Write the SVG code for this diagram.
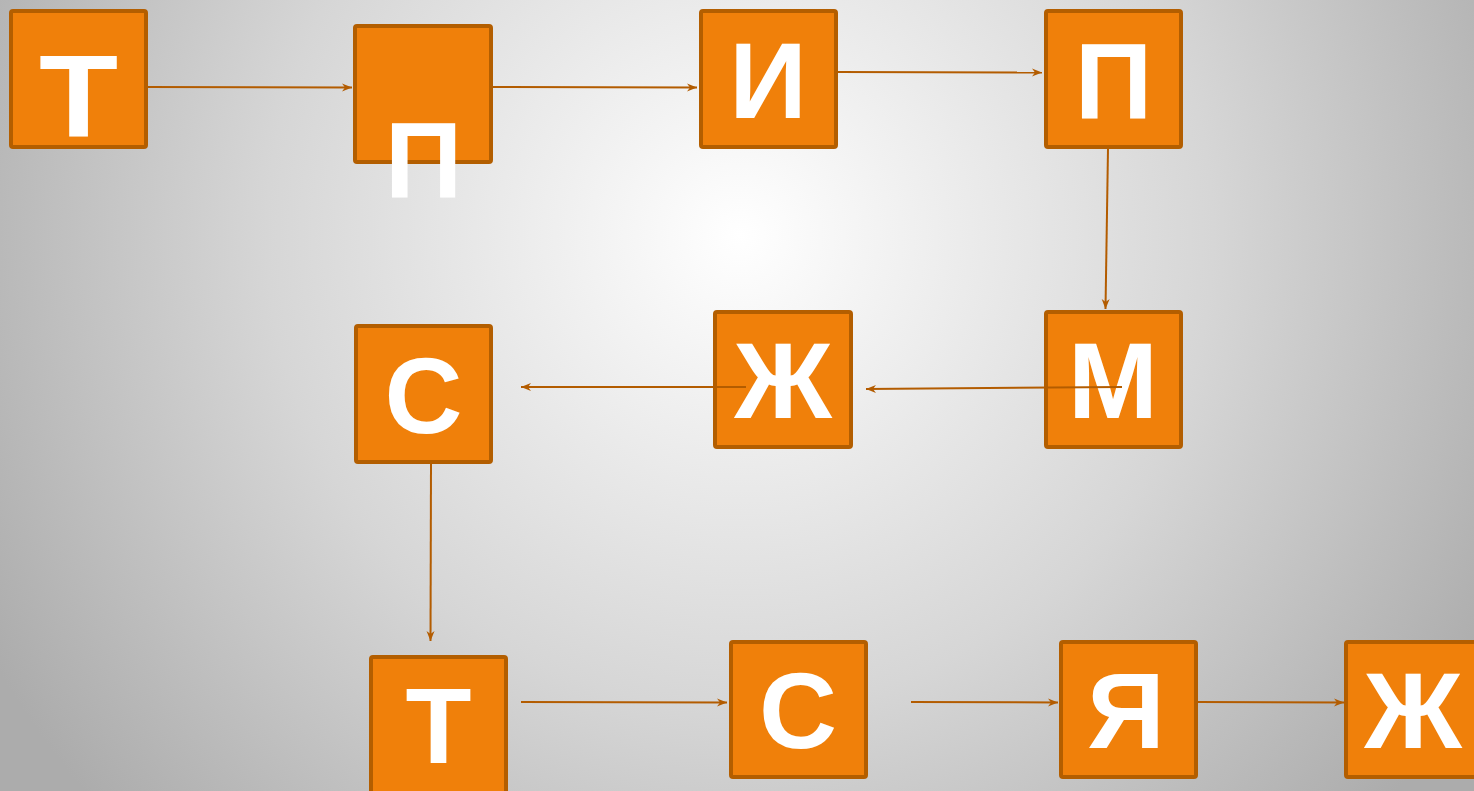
<svg xmlns="http://www.w3.org/2000/svg" width="1474" height="791" viewBox="0 0 1474 791">
<defs>
<radialGradient id="bg" gradientUnits="userSpaceOnUse" cx="740" cy="235" r="860">
<stop offset="0" stop-color="#ffffff"/>
<stop offset="0.55" stop-color="#d6d6d6"/>
<stop offset="1" stop-color="#acacac"/>
</radialGradient>
<marker id="arr" markerWidth="12" markerHeight="10" refX="10" refY="4" orient="auto" markerUnits="userSpaceOnUse">
<path d="M0,0 L10,4 L0,8 L3,4 z" fill="#b35c00"/>
</marker>
<style>
.box{fill:#f0800a;stroke:#b35e00;stroke-width:4}
.lt{font-family:"Liberation Sans",Arial,sans-serif;font-weight:bold;font-size:108px;fill:#ffffff;text-anchor:middle}
.cn{stroke:#b35c00;stroke-width:2;fill:none;marker-end:url(#arr)}
</style>
</defs>
<rect x="0" y="0" width="1474" height="791" fill="url(#bg)"/>
<g id="n1"><rect class="box" x="11" y="11" width="135" height="136" rx="2"/><text class="lt" transform="translate(78.5,137) scale(1.2,1.08)" x="0" y="0">Т</text></g>
<g id="n2"><rect class="box" x="355" y="26" width="136" height="136" rx="2"/><text class="lt" x="423.5" y="197">П</text></g>
<g id="n3"><rect class="box" x="701" y="11" width="135" height="136" rx="2"/><text class="lt" x="768" y="118">И</text></g>
<g id="n4"><rect class="box" x="1046" y="11" width="135" height="136" rx="2"/><text class="lt" x="1113.5" y="118">П</text></g>
<g id="n5"><rect class="box" x="715" y="312" width="136" height="135" rx="2"/><text class="lt" x="783" y="418">Ж</text></g>
<g id="n6"><rect class="box" x="1046" y="312" width="135" height="135" rx="2"/><text class="lt" x="1113" y="418">М</text></g>
<g id="n7"><rect class="box" x="356" y="326" width="135" height="136" rx="2"/><text class="lt" x="423.5" y="433">С</text></g>
<g id="n8"><rect class="box" x="371" y="657" width="135" height="136" rx="2"/><text class="lt" x="438.5" y="763">Т</text></g>
<g id="n9"><rect class="box" x="731" y="642" width="135" height="135" rx="2"/><text class="lt" x="798" y="748">С</text></g>
<g id="n10"><rect class="box" x="1061" y="642" width="135" height="135" rx="2"/><text class="lt" x="1126" y="748">Я</text></g>
<g id="n11"><rect class="box" x="1346" y="642" width="135" height="135" rx="2"/><text class="lt" x="1413" y="748">Ж</text></g>
<g id="connectors">
<line class="cn" x1="148" y1="87" x2="352" y2="87.5"/>
<line class="cn" x1="493" y1="87" x2="697" y2="87.5"/>
<line class="cn" x1="838" y1="72" x2="1042" y2="72.5"/>
<line class="cn" x1="1108" y1="149" x2="1105.5" y2="309"/>
<line class="cn" x1="1122" y1="387" x2="866" y2="389"/>
<line class="cn" x1="746" y1="387" x2="521" y2="387"/>
<line class="cn" x1="431" y1="464" x2="430.5" y2="641"/>
<line class="cn" x1="521" y1="702" x2="727" y2="702.5"/>
<line class="cn" x1="911" y1="702" x2="1058" y2="702.5"/>
<line class="cn" x1="1198" y1="702" x2="1344" y2="702.5"/>
</g>
</svg>
